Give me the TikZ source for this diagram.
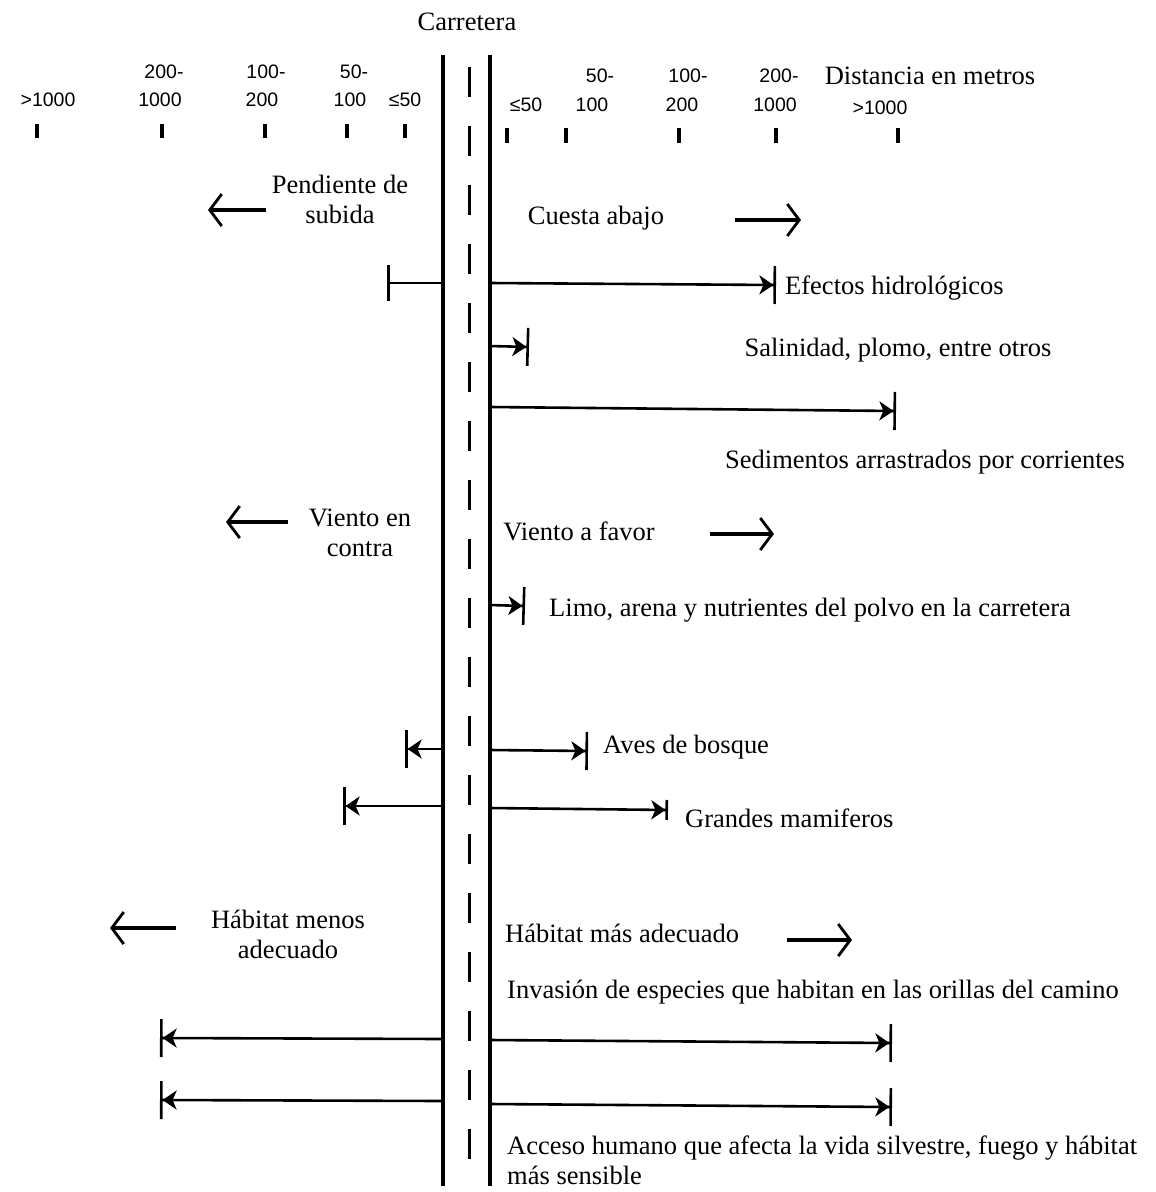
\documentclass[tikz,border=0pt]{standalone}
\usepackage{fontspec}
\setmainfont{Liberation Serif}
\newfontfamily\numfont{Liberation Sans}
\usetikzlibrary{arrows.meta}
\begin{document}
\begin{tikzpicture}[x=1pt,y=-1pt,
  txt/.style={font=\fontsize{26.5}{30}\selectfont, inner sep=0pt},
  num/.style={font=\numfont\fontsize{19.5}{22}\selectfont, inner sep=0pt},
  road/.style={line width=3.8pt},
  centre/.style={line width=3pt, dash pattern=on 30pt off 29pt},
  tickmark/.style={line width=3.2pt},
  bigarrow/.style={line width=3.8pt, -{Straight Barb[length=12pt,width=32pt,line width=2.8pt]}},
  rowtip/.style={line width=2.6pt},
  rowarrow/.style={rowtip, -{Stealth[length=14pt,width=19pt,inset=4pt]Bar[width=38pt,line width=2.6pt]}},
  rowarrowl/.style={rowtip, {Bar[width=38pt,line width=2.6pt]Stealth[length=14pt,width=19pt,inset=4pt]}-},
  rowarrows/.style={rowtip, -{Stealth[length=14pt,width=19pt,inset=4pt]Bar[width=20pt,line width=2.6pt]}},
  baronly/.style={rowtip, {Bar[width=36pt,line width=2.6pt]}-}
]
\useasboundingbox (0,0) rectangle (1156,1192);
\fill[white] (0,0) rectangle (1156,1192);

% road
\coordinate (LT) at (443,55);  \coordinate (LB) at (443,1186);
\coordinate (RT) at (490,55);  \coordinate (RB) at (490,1186);
\coordinate (CT) at (469,67);  \coordinate (CB) at (469,1186);
\draw[road] (LT) -- (LB);
\draw[road] (RT) -- (RB);
\draw[centre] (CT) -- (CB);

\node[txt] (carretera) at (467,22) {Carretera};

% left scale
\node[num] (l1a) at (48,100) {>1000};
\node[num] (l2a) at (164,72) {200-};
\node[num] (l2b) at (160,100) {1000};
\node[num] (l3a) at (266,72) {100-};
\node[num] (l3b) at (262,100) {200};
\node[num] (l4a) at (354,72) {50-};
\node[num] (l4b) at (350,100) {100};
\node[num] (l5b) at (405,100) {≤50};
\foreach \x in {37,162,265,347,405} \draw[tickmark] (\x,124) -- (\x,138);

% right scale
\node[num] (r1b) at (526,105) {≤50};
\node[num] (r2a) at (600,76) {50-};
\node[num] (r2b) at (592,105) {100};
\node[num] (r3a) at (688,76) {100-};
\node[num] (r3b) at (682,105) {200};
\node[num] (r4a) at (779,76) {200-};
\node[num] (r4b) at (775,105) {1000};
\node[num] (r5b) at (880,108) {>1000};
\node[txt] (dist) at (930,76) {Distancia en metros};
\foreach \x in {507,566,679,776,898} \draw[tickmark] (\x,128) -- (\x,143);

% slope
\node[txt, align=center] (pend) at (340,199) {Pendiente de\\subida};
\coordinate (pendA) at (266,210); \coordinate (pendB) at (208,210);
\draw[bigarrow] (pendA) -- (pendB);
\node[txt] (cuesta) at (596,218) {Cuesta abajo};
\coordinate (cuesA) at (735,220); \coordinate (cuesB) at (801,220);
\draw[bigarrow] (cuesA) -- (cuesB);

% hydrological
\coordinate (hL0) at (443,283); \coordinate (hL1) at (387,283);
\draw[baronly] (hL1) -- (hL0);
\coordinate (hR0) at (490,283); \coordinate (hR1) at (776,285);
\draw[rowarrow] (hR0) -- (hR1);
\node[txt, anchor=west] (hidro) at (785,288) {Efectos hidrológicos};

% salinity
\coordinate (sR0) at (490,346); \coordinate (sR1) at (529,347);
\draw[rowarrow] (sR0) -- (sR1);
\node[txt] (salin) at (898,350) {Salinidad, plomo, entre otros};

% sediments
\coordinate (dR0) at (490,407); \coordinate (dR1) at (896,411);
\draw[rowarrow] (dR0) -- (dR1);
\node[txt] (sedim) at (925,462) {Sedimentos arrastrados por corrientes};

% wind
\node[txt, align=center] (vcontra) at (360,533) {Viento en\\contra};
\coordinate (vcA) at (288,522); \coordinate (vcB) at (226,522);
\draw[bigarrow] (vcA) -- (vcB);
\node[txt] (vfavor) at (579,531) {Viento a favor};
\coordinate (vfA) at (710,534); \coordinate (vfB) at (774,534);
\draw[bigarrow] (vfA) -- (vfB);

% silt
\coordinate (mR0) at (490,605); \coordinate (mR1) at (525,606);
\draw[rowarrow] (mR0) -- (mR1);
\node[txt, anchor=west] (limo) at (549,610) {Limo, arena y nutrientes del polvo en la carretera};

% forest birds
\coordinate (aL0) at (443,749); \coordinate (aL1) at (405,749);
\draw[rowarrowl] (aL1) -- (aL0);
\coordinate (aR0) at (490,750); \coordinate (aR1) at (588,751);
\draw[rowarrow] (aR0) -- (aR1);
\node[txt, anchor=west] (aves) at (603,747) {Aves de bosque};

% large mammals
\coordinate (gL0) at (443,806); \coordinate (gL1) at (343,806);
\draw[rowarrowl] (gL1) -- (gL0);
\coordinate (gR0) at (490,808); \coordinate (gR1) at (668,810);
\draw[rowarrows] (gR0) -- (gR1);
\node[txt, anchor=west] (mamif) at (685,818) {Grandes mamiferos};

% habitat
\node[txt, align=center] (hmenos) at (288,934) {Hábitat menos\\adecuado};
\coordinate (hmA) at (176,928); \coordinate (hmB) at (110,928);
\draw[bigarrow] (hmA) -- (hmB);
\node[txt, anchor=west] (hmas) at (505,933) {Hábitat más adecuado};
\coordinate (hpA) at (787,940); \coordinate (hpB) at (852,940);
\draw[bigarrow] (hpA) -- (hpB);
\node[txt, anchor=west] (invas) at (507,992) {Invasión de especies que habitan en las orillas del camino};

% invasion rows
\coordinate (iL0) at (443,1039); \coordinate (iL1) at (160,1038);
\draw[rowarrowl] (iL1) -- (iL0);
\coordinate (iR0) at (490,1040); \coordinate (iR1) at (892,1043);
\draw[rowarrow] (iR0) -- (iR1);

\coordinate (jL0) at (443,1101); \coordinate (jL1) at (160,1100);
\draw[rowarrowl] (jL1) -- (jL0);
\coordinate (jR0) at (490,1104); \coordinate (jR1) at (892,1107);
\draw[rowarrow] (jR0) -- (jR1);

\node[txt, anchor=north west, align=left] (acceso) at (507,1136) {Acceso humano que afecta la vida silvestre, fuego y hábitat\\más sensible};
\end{tikzpicture}
\end{document}
